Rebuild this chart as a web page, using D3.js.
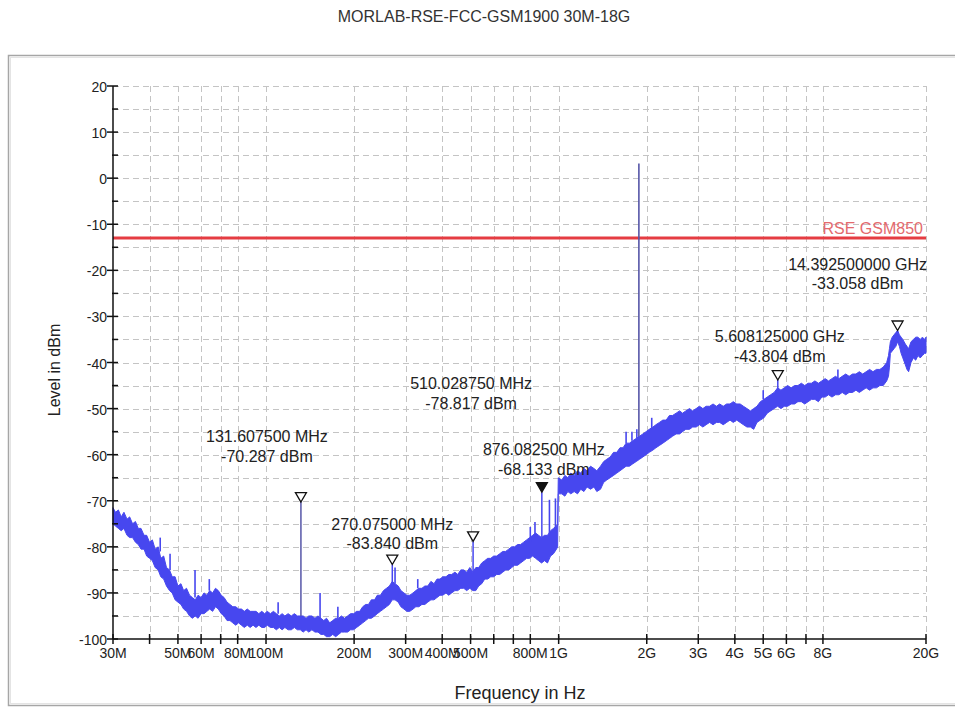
<!DOCTYPE html>
<html>
<head>
<meta charset="utf-8">
<script src="https://cdn.jsdelivr.net/npm/d3@7"></script>
<style>
  body { margin: 0; background: #fff; }
  svg { display: block; }
  text { font-family: "Liberation Sans", Arial, sans-serif; fill: #222; }
</style>
</head>
<body>
<svg id="chart" width="955" height="708"></svg>
<script>
// ---- chart data ----------------------------------------------------------
const chartTitle = "MORLAB-RSE-FCC-GSM1900 30M-18G";
const xAxisTitle = "Frequency in Hz";
const yAxisTitle = "Level in dBm";

// frequency axis (MHz)
const freqStart = 30, freqStop = 18000;
const xTickValues = [30, 40, 50, 60, 70, 80, 100, 200, 300, 400, 500, 600, 700, 800,
                     1000, 2000, 3000, 4000, 5000, 6000, 7000, 8000, 18000];
const xTickLabels = ["30M", "", "50M", "60M", "", "80M", "100M", "200M", "300M", "400M", "500M", "", "", "800M",
                     "1G", "2G", "3G", "4G", "5G", "6G", "", "8G", "20G"];

// level axis (dBm)
const levelMin = -100, levelMax = 20;
const yMajorTicks = [20, 10, 0, -10, -20, -30, -40, -50, -60, -70, -80, -90, -100];
const yMinorTicks = [15, 5, -5, -15, -25, -35, -45, -55, -65, -75, -85, -95];

// limit line
const limitLevel = -13;
const limitName = "RSE GSM850";

// measured trace: frequency (MHz) with lower / upper edge of the noise band (dBm)
const traceFreq = [
  30, 30.6, 31.3, 32, 32.7, 33.5, 34.2, 35, 35.8, 36.6, 37.4, 38.3, 39.1, 40, 40.9, 41.8, 42.8, 43.7, 44.7, 45.7,
  46.8, 47.8, 48.9, 50, 51.2, 52.3, 53.5, 54.8, 56, 57.3, 58.6, 60, 61.4, 62.8, 64.2, 65.7, 67.2, 68.7, 70.3, 71.9,
  73.6, 75.3, 77, 78.8, 80.6, 82.4, 84.3, 86.3, 88.3, 90.3, 92.4, 94.5, 96.7, 98.9, 101, 103.5, 106, 108.5, 111, 113.5,
  116, 119, 122, 125, 128, 131, 134, 137, 140, 143.5, 147, 150.5, 154, 157.5, 161, 165, 169, 173, 177, 181,
  185.5, 190, 194.5, 199, 204, 209, 214, 219, 224, 229, 235, 240, 246, 252, 258, 264, 270, 276, 283, 289,
  296, 303, 310, 318, 325, 333, 341, 349, 357, 366, 375, 384, 393, 402, 412, 421, 431, 442, 452, 463,
  474, 485, 497, 509, 521, 533, 546, 559, 572, 586, 600, 614, 629, 644, 659, 675, 691, 707, 724, 741,
  759, 777, 796, 815, 834, 854, 874, 895, 916, 938, 960, 983, 992, 997, 1025, 1050, 1075, 1100, 1130, 1160,
  1190, 1220, 1250, 1285, 1320, 1350, 1390, 1425, 1460, 1500, 1540, 1580, 1620, 1660, 1700, 1745, 1790, 1840, 1890, 1940,
  1990, 2040, 2100, 2150, 2210, 2270, 2330, 2390, 2450, 2520, 2590, 2650, 2720, 2800, 2870, 2950, 3030, 3110, 3190, 3280,
  3370, 3460, 3550, 3650, 3750, 3850, 3950, 4060, 4170, 4280, 4400, 4520, 4640, 4760, 4890, 5030, 5160, 5300, 5450, 5600,
  5750, 5900, 6060, 6230, 6400, 6570, 6750, 6930, 7120, 7310, 7510, 7720, 7930, 8140, 8360, 8590, 8830, 9070, 9310, 9570,
  9830, 10100, 10370, 10650, 10940, 11240, 11550, 11860, 12190, 12520, 12860, 13210, 13400, 13500, 13600, 13800, 14000, 14200, 14400, 14600,
  14800, 15000, 15300, 15500, 15700, 16000, 16300, 16600, 16900, 17200, 17500, 17800, 18000];
const traceLow = [
  -75, -75.5, -76, -76.5, -76, -77.5, -78, -78, -79, -79.5, -80.5, -80.5, -82, -82.5, -83, -84.5, -85, -86.5, -87, -88.5,
  -89.5, -90, -91.5, -92, -92.5, -93.5, -94, -95, -95.5, -95, -95.5, -94.5, -94.5, -94, -93.5, -94, -93, -93.5, -94.5, -95,
  -96, -96, -96.5, -97, -96.5, -97, -97.5, -97, -97.5, -97, -97.5, -97, -97.5, -97.5, -97, -97.5, -97.5, -98, -97.5, -98,
  -97.5, -98, -98, -97.5, -98, -98, -98.5, -98, -98.5, -98, -98.5, -98.5, -99, -99, -99.5, -99.5, -99, -99.5, -99, -98.5,
  -98.5, -98.5, -98, -98, -97.5, -97, -96.5, -96, -95.5, -95.5, -95, -94.5, -94, -93.5, -93, -92.5, -91.5, -91.5, -92, -93,
  -93.5, -94, -94, -93.5, -93, -93, -92.5, -92.5, -92, -91.5, -91.5, -91, -90.5, -90.5, -90, -90.5, -90, -89.5, -89.5, -89,
  -89, -89.5, -89, -89.5, -89.5, -88.5, -88, -87, -87, -86.5, -86.5, -86, -86, -85.5, -85, -85, -84.5, -84, -84, -83.5,
  -83, -82.5, -82.5, -82, -82.5, -83, -83.5, -83, -83.5, -82, -81.5, -80.5, -80, -68.5, -68.5, -69, -68, -68.5, -68, -68.5,
  -67.5, -68, -67, -67.5, -67, -68, -67.5, -66, -65.5, -65, -64.5, -64, -63.5, -63, -62.5, -62.5, -62, -61.5, -61, -60.5,
  -60, -59.5, -59, -58.5, -58, -57.5, -57, -56.5, -56, -55.5, -55.5, -55, -54.5, -54.5, -54, -54, -53.5, -54, -53.5, -53,
  -53.5, -53, -53, -53.5, -53, -52.5, -53, -52.5, -53, -53.5, -54, -54, -54.5, -53, -52.5, -52, -51, -50.5, -50, -49.5,
  -50, -49.5, -49.5, -49, -49, -48.5, -48.5, -49, -48.5, -48, -48, -48.5, -47.5, -47.5, -47, -47.5, -47, -47, -46.5, -47,
  -46.5, -46.5, -46, -46.5, -46, -45.5, -46, -45.5, -45.5, -45, -45, -44, -43, -41, -38, -37.5, -37, -36.5, -35.5, -36.5,
  -38, -39, -40.5, -41.5, -42, -40, -39, -39.5, -38.5, -39, -38.5, -38, -38];
const traceHigh = [
  -71.5, -72.5, -72, -73.5, -72.5, -74, -73.5, -75, -74.5, -76, -76, -77.5, -77.5, -79, -78.5, -80.5, -80, -82.5, -82, -84.5,
  -85, -86.5, -86.5, -88.5, -88, -89.5, -89, -90.5, -91, -91.5, -90.5, -91, -90, -90.5, -89.5, -90, -89, -89.5, -90.5, -91,
  -92, -92.5, -93, -93, -93.5, -93.5, -94, -93.5, -94, -94, -94, -94.5, -94, -94.5, -94, -94.5, -94, -94.5, -95, -94.5,
  -95, -94.5, -95, -94.5, -95, -95, -95, -95.5, -95, -95, -95.5, -95, -95.5, -96, -95.5, -96.5, -96, -95.5, -95.5, -95,
  -95.5, -95, -94.5, -94.5, -94, -94, -93, -92.5, -92.5, -91.5, -91.5, -90.5, -90.5, -89.5, -89, -88.5, -87.5, -88, -88.5, -89.5,
  -90, -90.5, -90.5, -90, -89.5, -89, -89, -88.5, -88.5, -87.5, -88, -87, -87, -86.5, -86.5, -86, -86, -85.5, -86, -85,
  -85, -85.5, -84.5, -85.5, -84.5, -84.5, -83.5, -83, -82.5, -82.5, -82, -82, -81.5, -81, -81, -80.5, -80, -80, -79.5, -79.5,
  -79, -78.5, -78, -77.5, -77, -77.5, -78, -77.5, -77.5, -76.5, -76, -75.5, -75, -65, -65.5, -64.5, -65, -64, -64.5, -63.5,
  -64, -63, -63.5, -62.5, -63, -63.5, -62.5, -61.5, -61, -60.5, -59.5, -59.5, -58.5, -58.5, -57.5, -57.5, -57, -56.5, -56, -55.5,
  -55, -54.5, -54, -53.5, -53, -52.5, -52.5, -51.5, -51.5, -51, -50.5, -51, -50.5, -50, -50.5, -50, -49.5, -50, -49.5, -49.5,
  -49, -49.5, -49, -49.5, -49, -49, -48.5, -49, -49, -49.5, -50, -50.5, -50, -49.5, -48.5, -48, -47.5, -47, -46.5, -45.5,
  -46, -45.5, -45, -45.5, -45, -45, -44.5, -45, -44.5, -44.5, -44, -44.5, -44, -43.5, -44, -43.5, -43, -43.5, -43, -42.5,
  -43, -42.5, -42.5, -42, -42.5, -42, -41.5, -42, -41.5, -41.5, -41, -40, -38.5, -37, -35.5, -34.5, -34, -33.5, -33, -34,
  -34.5, -35, -36, -36.5, -37, -35.5, -35, -34.5, -34.5, -35, -34.5, -35, -34.5];

// narrow spurious lines on the trace (MHz, foot dBm, tip dBm)
const spikeFreq = [43.5, 47, 57.2, 64, 110, 153, 176, 276, 330, 800, 830, 930, 975, 1700, 1780, 1850, 2080, 5000, 9000];
const spikeBase = [-81, -85, -91, -89.5, -94.5, -95.5, -95.5, -88, -89, -79, -78, -77, -76, -57.5, -57, -56.5, -54.5, -48, -43.5];
const spikeTop  = [-78, -81.5, -85, -87, -92, -90, -93, -84.5, -87, -75.7, -74.6, -69.8, -69.5, -55, -55, -54.5, -52, -46, -41.5];

// transmit carrier
const carrierFreq = 1880;
const carrierBase = -57;
const carrierLevel = 3.2;

// markers (MHz, dBm), foot of the marker line on the trace, active marker flag
const markerFreq  = [131.6075, 270.075, 510.02875, 876.0825, 5608.125, 14392.5];
const markerLevel = [-70.287, -83.840, -78.817, -68.133, -43.804, -33.058];
const markerBase  = [-95, -88, -85.5, -78, -46, -33.058];
const markerActive = [false, false, false, true, false, false];

// ---- layout --------------------------------------------------------------
const W = 955, H = 708;
const plot = { left: 113, right: 926, top: 86, bottom: 639 };
// marker readout placement relative to the marker tip (px)
const readoutDx = [-34, 0, -2, 2, 2, -40];
const readoutDy = [-60, -35, -152, -37, -38, -61];

const traceColor = "#4747ef";
const spikeColor = "#5656a8";
const gridColor = "#c4c4c4";

const svg = d3.select("#chart");
svg.append("rect").attr("width", W).attr("height", H).attr("fill", "#fff");

// outer frame
svg.append("rect")
  .attr("x", 8.5).attr("y", 55.5).attr("width", 980).attr("height", 650)
  .attr("fill", "none").attr("stroke", "#a6a6a6").attr("stroke-width", 1.5);
svg.append("rect")
  .attr("x", 10.5).attr("y", 57.5).attr("width", 980).attr("height", 646)
  .attr("fill", "none").attr("stroke", "#e4e4e4").attr("stroke-width", 1);

const x = d3.scaleLog().domain([freqStart, freqStop]).range([plot.left, plot.right]);
const y = d3.scaleLinear().domain([levelMin, levelMax]).range([plot.bottom, plot.top]);

// title
svg.append("text")
  .attr("x", 484).attr("y", 22)
  .attr("text-anchor", "middle")
  .style("font-size", "16px").style("fill", "#333")
  .text(chartTitle);

// grid
const grid = svg.append("g").attr("stroke", gridColor).attr("stroke-width", 1).attr("stroke-dasharray", "6,4");
grid.selectAll("line.v").data(xTickValues.slice(1)).join("line")
  .attr("x1", d => Math.round(x(d)) + 0.5).attr("x2", d => Math.round(x(d)) + 0.5)
  .attr("y1", plot.top).attr("y2", plot.bottom);
grid.selectAll("line.h").data(yMajorTicks.concat(yMinorTicks).filter(d => d > levelMin)).join("line")
  .attr("x1", plot.left).attr("x2", plot.right)
  .attr("y1", d => Math.round(y(d)) + 0.5).attr("y2", d => Math.round(y(d)) + 0.5);

// limit line
svg.append("line")
  .attr("x1", plot.left).attr("x2", plot.right)
  .attr("y1", y(limitLevel)).attr("y2", y(limitLevel))
  .attr("stroke", "#e53c42").attr("stroke-width", 3);
svg.append("text")
  .attr("x", 923).attr("y", y(limitLevel) - 4.5)
  .attr("text-anchor", "end")
  .style("font-size", "16px").style("fill", "#e36a6e")
  .text(limitName);

// carrier line
svg.append("line")
  .attr("x1", x(carrierFreq)).attr("x2", x(carrierFreq))
  .attr("y1", y(carrierBase)).attr("y2", y(carrierLevel))
  .attr("stroke", spikeColor).attr("stroke-width", 1.6);

// trace band
const trace = traceFreq.map((f, i) => ({ f, lo: traceLow[i], hi: traceHigh[i] }));
const band = d3.area()
  .x(d => x(d.f))
  .y0(d => y(d.lo))
  .y1(d => y(d.hi));
svg.append("path")
  .datum(trace)
  .attr("d", band)
  .attr("fill", traceColor)
  .attr("stroke", traceColor)
  .attr("stroke-width", 1)
  .attr("stroke-linejoin", "miter");

// spurious lines
svg.append("g").selectAll("line").data(spikeFreq).join("line")
  .attr("x1", d => x(d)).attr("x2", d => x(d))
  .attr("y1", (d, i) => y(spikeBase[i])).attr("y2", (d, i) => y(spikeTop[i]))
  .attr("stroke", traceColor).attr("stroke-width", 1.6);

// marker lines
svg.append("g").selectAll("line").data(markerFreq).join("line")
  .attr("x1", d => x(d)).attr("x2", d => x(d))
  .attr("y1", (d, i) => y(markerBase[i])).attr("y2", (d, i) => y(markerLevel[i]))
  .attr("stroke", (d, i) => i === 0 ? spikeColor : traceColor).attr("stroke-width", 1.5);

// axes
const axes = svg.append("g").attr("stroke", "#111").attr("stroke-width", 1.5);
axes.append("line").attr("x1", plot.left).attr("x2", plot.left).attr("y1", plot.top).attr("y2", plot.bottom);
axes.append("line").attr("x1", plot.left).attr("x2", plot.right).attr("y1", plot.bottom).attr("y2", plot.bottom);
axes.selectAll("line.ym").data(yMajorTicks).join("line")
  .attr("x1", plot.left - 6).attr("x2", plot.left + 5)
  .attr("y1", d => y(d)).attr("y2", d => y(d));
axes.selectAll("line.yn").data(yMinorTicks).join("line")
  .attr("x1", plot.left - 1).attr("x2", plot.left + 5)
  .attr("y1", d => y(d)).attr("y2", d => y(d));
axes.selectAll("line.xt").data(xTickValues).join("line")
  .attr("x1", d => x(d)).attr("x2", d => x(d))
  .attr("y1", plot.bottom - 5).attr("y2", plot.bottom + 5);

// tick labels
svg.append("g").selectAll("text").data(yMajorTicks).join("text")
  .attr("x", plot.left - 6).attr("y", d => y(d) + 6)
  .attr("text-anchor", "end")
  .style("font-size", "14px")
  .text(d => d);
svg.append("g").selectAll("text").data(xTickValues).join("text")
  .attr("x", d => x(d)).attr("y", plot.bottom + 19)
  .attr("text-anchor", "middle")
  .style("font-size", "14px")
  .text((d, i) => xTickLabels[i]);

// axis titles
svg.append("text")
  .attr("x", 520).attr("y", 699)
  .attr("text-anchor", "middle")
  .style("font-size", "18px")
  .text(xAxisTitle);
svg.append("text")
  .attr("transform", "translate(60,370) rotate(-90)")
  .attr("text-anchor", "middle")
  .style("font-size", "16px")
  .text(yAxisTitle);

// marker symbols
const tri = (px, py) => `M${px},${py} L${px - 5.5},${py - 9.5} L${px + 5.5},${py - 9.5} Z`;
svg.append("g").selectAll("path").data(markerFreq).join("path")
  .attr("d", (d, i) => tri(x(d), y(markerLevel[i])))
  .attr("fill", (d, i) => markerActive[i] ? "#111" : "#fff")
  .attr("stroke", "#111").attr("stroke-width", 1.3);

// marker readouts
const fmtMHz = d3.format(".6f"), fmtGHz = d3.format(".9f"), fmtLvl = d3.format(".3f");
const freqText = f => f >= 1000 ? `${fmtGHz(f / 1000)} GHz` : `${fmtMHz(f)} MHz`;
const readouts = svg.append("g");
markerFreq.forEach((f, i) => {
  const cx = x(f) + readoutDx[i];
  const by = y(markerLevel[i]) + readoutDy[i];
  readouts.append("text")
    .attr("x", cx).attr("y", by)
    .attr("text-anchor", "middle").style("font-size", "16px")
    .text(freqText(f));
  readouts.append("text")
    .attr("x", cx).attr("y", by + 19.5)
    .attr("text-anchor", "middle").style("font-size", "16px")
    .text(`${fmtLvl(markerLevel[i]).replace("−", "-")} dBm`);
});
</script>
</body>
</html>
